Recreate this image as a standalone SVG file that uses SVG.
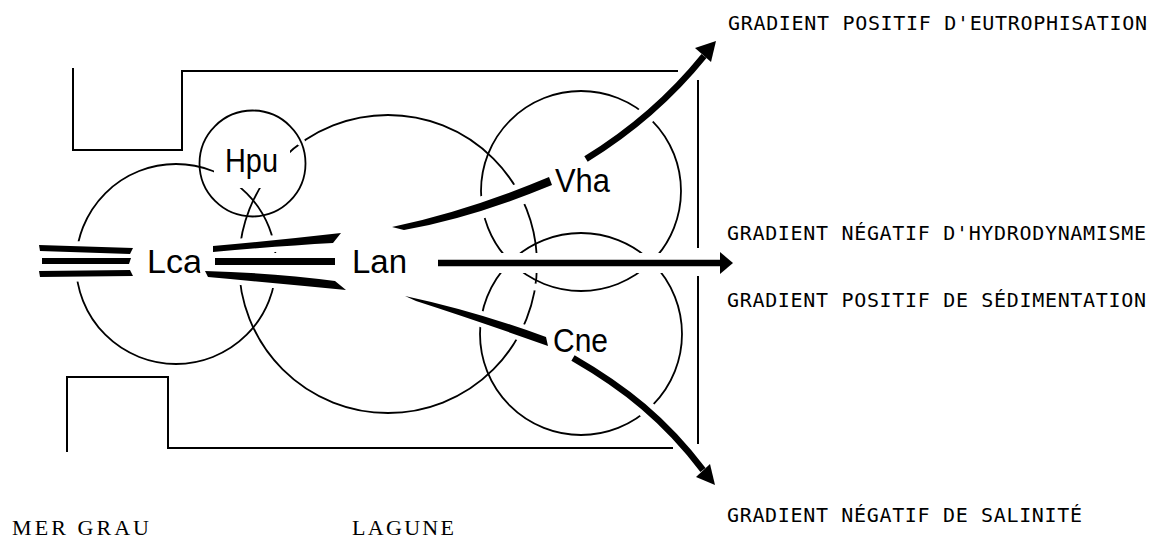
<svg xmlns="http://www.w3.org/2000/svg" width="1156" height="542" viewBox="0 0 1156 542">
<style>
.c{fill:none;stroke:#000;stroke-width:1.8}
.f{fill:none;stroke:#000;stroke-width:2}
.lbl{font-family:"Liberation Sans",Arial,sans-serif;font-size:34px;fill:#000}
.g{font-family:"DejaVu Sans Mono","Liberation Mono",monospace;font-size:20px;fill:#000}
.s{font-family:"Liberation Serif","Times New Roman",serif;font-size:22px;fill:#000}
.h{fill:none;stroke:#fff;stroke-linejoin:round}
.a{fill:none;stroke:#000;stroke-width:6.5}
.b{fill:#000}
.ko{fill:#fff}
</style>
<rect width="1156" height="542" fill="#fff"/>

<g id="node-lca">
<circle class="c" cx="176" cy="264" r="100"/>
<text class="lbl" x="147" y="273" textLength="55" lengthAdjust="spacingAndGlyphs">Lca</text>
</g>
<g id="node-lan">
<circle class="c" cx="388" cy="264" r="149"/>
<text class="lbl" x="352" y="273" textLength="55" lengthAdjust="spacingAndGlyphs">Lan</text>
</g>
<g id="node-vha">
<circle class="c" cx="581" cy="191" r="100"/>
<text class="lbl" x="555" y="192" textLength="55" lengthAdjust="spacingAndGlyphs">Vha</text>
</g>
<g id="node-cne">
<circle class="c" cx="581" cy="334" r="101"/>
<text class="lbl" x="553" y="352" textLength="55" lengthAdjust="spacingAndGlyphs">Cne</text>
</g>

<g id="connectors">
<!-- white knock-out halos -->
<g class="h">
<path stroke-width="10" d="M39,245 L133,248 L130,254 L40,251 Z M42,258 L131,258 L129,264 L42,264 Z M39,271 L130,270 L133,276 L40,277 Z"/>
<path stroke-width="10" d="M213,246 Q280,240 341,233 L333,243 Q280,246 213,252 Z M215,258 L335,258 L335,265 L215,265 Z M205,271 Q275,273 335,281 L346,290 Q275,283 208,277 Z"/>
<path stroke-width="9" d="M392,227 Q468,211 549,177 L552,185 Q472,218 404,230 Z"/>
<path stroke-width="22" d="M470,211 Q505,201 540,186"/>
<path stroke-width="18" d="M586,159 C630,132 670,98 704,56"/>
<path stroke-width="20" d="M438,263 L722,263"/>
<path stroke-width="9" d="M405,296 Q475,311 546,337 L548,346 Q478,321 416,301 Z"/>
<path stroke-width="18" d="M573,358 C625,388 665,420 703,470"/>
</g>
<circle class="ko" cx="535" cy="287" r="3.5"/>
<!-- sea to Lca -->
<path class="b" d="M39,245 L133,248 L130,254 L40,251 Z"/>
<path class="b" d="M42,258 L131,258 L129,264 L42,264 Z"/>
<path class="b" d="M39,271 L130,270 L133,276 L40,277 Z"/>
<!-- Lca to Lan -->
<path class="b" d="M213,246 Q280,240 341,233 L333,243 Q280,246 213,252 Z"/>
<path class="b" d="M215,258 L335,258 L335,265 L215,265 Z"/>
<path class="b" d="M205,271 Q275,273 335,281 L346,290 Q275,283 208,277 Z"/>
<!-- Lan to Vha -->
<path class="b" d="M392,227 Q468,211 549,177 L552,185 Q472,218 404,230 Z"/>
<path class="a" d="M586,159 C630,132 670,98 704,56"/>
<path class="b" d="M716,41 L711,62 L695,48 Z"/>
<!-- Lan horizontal -->
<path class="a" d="M438,263 L722,263"/>
<path class="b" d="M720,252 L733,263 L720,274 Z"/>
<!-- Lan to Cne -->
<path class="b" d="M405,296 Q475,311 546,337 L548,346 Q478,321 416,301 Z"/>
<path class="a" d="M573,358 C625,388 665,420 703,470"/>
<path class="b" d="M715,485 L710,464 L696,477 Z"/>
</g>

<g id="node-hpu">
<rect class="ko" x="214" y="138" width="76" height="50"/>
<circle class="ko" cx="301" cy="142" r="4"/>
<circle class="c" cx="252.5" cy="163.5" r="53"/>
<text class="lbl" x="225" y="172" textLength="53" lengthAdjust="spacingAndGlyphs">Hpu</text>
</g>

<g id="frame">
<path class="f" d="M73,68 L73,150 L182,150 L182,71 L678,71"/>
<path class="f" d="M698,80 L698,248 M698,276 L698,444"/>
<path class="f" d="M673,448 L168,448 L168,377 L67,377 L67,452"/>
</g>

<g id="labels">
<text class="g" x="728" y="30" textLength="419" lengthAdjust="spacing">GRADIENT POSITIF D'EUTROPHISATION</text>
<text class="g" x="727" y="240" textLength="419" lengthAdjust="spacing">GRADIENT NÉGATIF D'HYDRODYNAMISME</text>
<text class="g" x="727" y="307" textLength="419" lengthAdjust="spacing">GRADIENT POSITIF DE SÉDIMENTATION</text>
<text class="g" x="727" y="522" textLength="355" lengthAdjust="spacing">GRADIENT NÉGATIF DE SALINITÉ</text>
<text class="s" x="12" y="535" textLength="137" lengthAdjust="spacing">MER GRAU</text>
<text class="s" x="352" y="535" textLength="102" lengthAdjust="spacing">LAGUNE</text>
</g>
</svg>
